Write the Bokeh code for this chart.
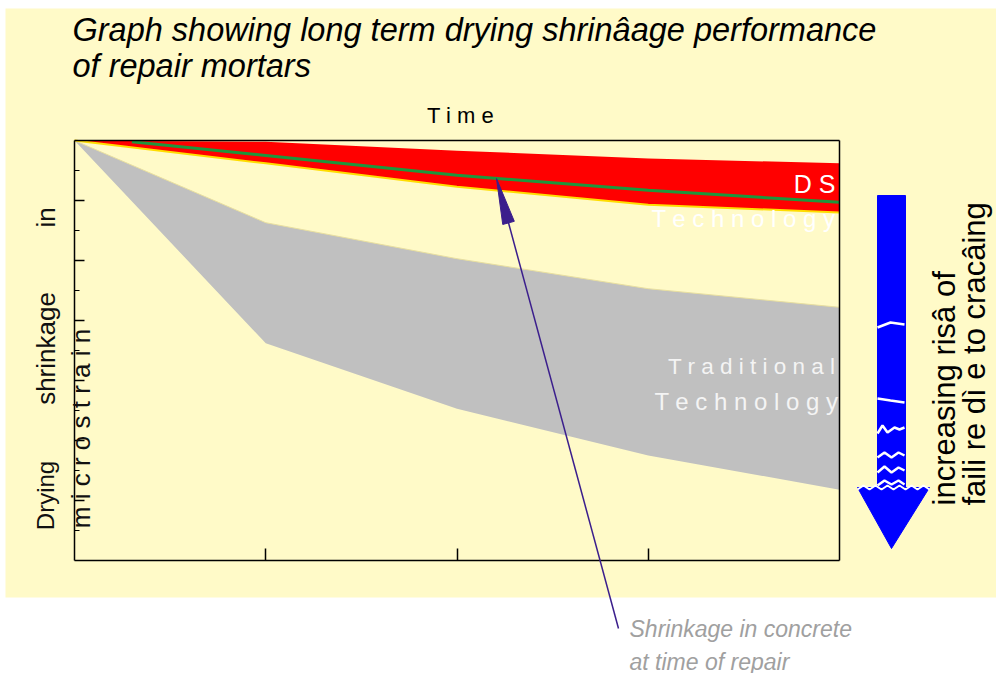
import math
from bokeh.plotting import figure
from bokeh.models import (Range1d, FixedTicker, Label, PolyAnnotation, Arrow,
                          BoxAnnotation, LinearAxis)
from bokeh.embed import file_html
from bokeh.resources import INLINE

# ---------------- data ----------------
time = [0, 1, 2, 3, 4]
trad_shrink_low = [0, 137, 197, 247, 278]
trad_shrink_high = [0, 338, 447, 525, 582]
ds_shrink_low = [0, 2, 17, 30, 38]
ds_shrink_high = [0, 38, 77, 107, 120]
concrete_time = [0.3, 1, 2, 3, 4]
concrete_shrink = [2, 25, 58, 83, 103]
x_ticks = [1, 2, 3]
y_major_ticks = [100, 200, 300, 400, 500, 600]
y_minor_ticks = [50, 150, 250, 350, 450, 550, 650]
X_MIN, X_MAX = 0, 4
Y_MIN, Y_MAX = 0, 700

title_lines = ["Graph showing long term drying shrinâage performance", "of repair mortars"]
x_title = "T i m e"
y_title_words = ["Drying", "shrinkage", "in"]
y_title_2 = "m i c r o s t r a i n"
ds_label = ["D S", "T e c h n o l o g y"]
trad_label = ["T r a d i t i o n a l", "T e c h n o l o g y"]
risk_label = ["increasing risâ of", "faili re dì e to cracâing"]
note_label = ["Shrinkage in concrete", "at time of repair"]

# ---------------- layout / styling ----------------
W, H = 996, 673
PL, PR, PT, PB = 74, 839, 140, 560          # plot-area box in canvas pixels
BG = "#FFFAC8"
GREY = "#C0C0C0"
RED = "#FF0000"
GREEN = "#1E963C"
BLUE = "#0000FF"
PURPLE = "#3B1E8C"
FONT = "Liberation Sans"
U = "canvas"

# ranges so that the data box maps onto the plot-area box while the frame fills the canvas
sx = (X_MAX - X_MIN) / (PR - PL)
sy = (Y_MAX - Y_MIN) / (PB - PT)
x_range = Range1d(X_MIN - PL * sx, X_MAX + (W - PR) * sx)
y_range = Range1d(Y_MAX + (H - PB) * sy, Y_MIN - PT * sy)

p = figure(width=W, height=H, x_range=x_range, y_range=y_range,
           output_backend="svg", toolbar_location=None,
           x_axis_location=None, y_axis_location=None,
           min_border_left=0, min_border_right=0, min_border_top=0, min_border_bottom=0,
           background_fill_color="white", border_fill_color="white")
p.grid.visible = False
p.outline_line_color = None

# yellow panel
p.add_layout(BoxAnnotation(left=5, right=W, top=8, bottom=597, left_units=U, right_units=U,
                           top_units=U, bottom_units=U, fill_color=BG, fill_alpha=1.0,
                           line_color=None, level="underlay"))


def make_axis(loc, bounds, ticks, minor, tin, minor_in):
    ax = LinearAxis(fixed_location=loc, bounds=bounds,
                    ticker=FixedTicker(ticks=ticks, minor_ticks=minor))
    ax.axis_line_color = "black"
    ax.axis_line_width = 1.5
    ax.major_tick_line_color = "black"
    ax.major_tick_line_width = 1.5
    ax.minor_tick_line_color = "black"
    ax.minor_tick_line_width = 1.2
    ax.major_tick_out = 0
    ax.minor_tick_out = 0
    ax.major_tick_in = tin
    ax.minor_tick_in = minor_in
    ax.major_label_text_color = None
    ax.major_label_text_font_size = "1px"
    ax.major_label_standoff = 0
    return ax


p.add_layout(make_axis(Y_MAX, (X_MIN, X_MAX), x_ticks, [], 12, 0), "below")
p.add_layout(make_axis(X_MIN, (Y_MIN, Y_MAX), y_major_ticks, y_minor_ticks, 10, 5), "left")
p.add_layout(make_axis(Y_MIN, (X_MIN, X_MAX), [], [], 0, 0), "above")
p.add_layout(make_axis(X_MAX, (Y_MIN, Y_MAX), [], [], 0, 0), "right")

# bands
p.varea(x=time, y1=trad_shrink_low, y2=trad_shrink_high, fill_color=GREY)
p.line(time, trad_shrink_low, line_color="#E8DFA0", line_width=1)
p.varea(x=time, y1=ds_shrink_low, y2=ds_shrink_high, fill_color=RED)
p.line(time, ds_shrink_high, line_color="#FFDD00", line_width=2)
p.line(concrete_time, concrete_shrink, line_color=GREEN, line_width=3)


def poly(xs, ys, fill=None, line=None, lw=1.0):
    p.add_layout(PolyAnnotation(xs=xs, ys=ys, xs_units=U, ys_units=U,
                                fill_color=fill if fill else "white",
                                fill_alpha=1.0 if fill else 0.0,
                                line_color=line, line_alpha=1.0, line_width=lw))


def zig(xs, ys, color="white", lw=2.5):
    poly(xs + xs[-2:0:-1], ys + ys[-2:0:-1], fill=None, line=color, lw=lw)


def lab(x, y, text, size, color="black", align="left", baseline="middle",
        angle=0.0, style="normal"):
    p.add_layout(Label(x=x, y=y, x_units=U, y_units=U, text=text,
                       text_font=FONT, text_font_size=f"{size}px", text_color=color,
                       text_align=align, text_baseline=baseline, angle=angle,
                       text_font_style=style))


# titles
lab(72, 29, title_lines[0], 32.5, style="italic")
lab(72, 65, title_lines[1], 32.5, style="italic")
lab(460, 115, x_title, 22, align="center")

# y title
for word, yc, fs in zip(y_title_words, [495, 348, 217], [24, 26, 26]):
    lab(45, yc, word, fs, color="#111111", align="center", angle=math.pi / 2)
lab(80, 428, y_title_2, 26, color="#111111", align="center", angle=math.pi / 2)

# band labels
lab(835, 183, ds_label[0], 25, color="white", align="right")
lab(835, 218, ds_label[1], 24, color="white", align="right")
lab(835, 366, trad_label[0], 22.5, color="#F4F4F4", align="right")
lab(838, 401, trad_label[1], 24, color="#F4F4F4", align="right")

# blue risk arrow
poly([877, 905, 905, 929, 891, 857, 877], [195, 195, 487, 487, 548, 487, 487], fill=BLUE, line=BLUE)
zig([877, 890, 904], [327, 322, 324])
zig([877, 890, 904], [398, 400, 402])
zig([877, 882, 887, 894, 899, 904], [433, 425, 432, 427, 429, 427])
zig([877, 884, 891, 898, 904], [457, 452, 457, 452, 455])
zig([877, 884, 891, 898, 904], [472, 466, 472, 467, 470])
zig([877, 884, 891, 898, 904], [485, 480, 484, 480, 484])
zig([857, 863, 869, 875, 881, 887, 893, 899, 905, 911, 917, 923, 929],
    [489, 485, 489, 485, 489, 485, 489, 485, 489, 485, 489, 485, 489], lw=2)

lab(944, 505, risk_label[0], 31, align="left", angle=math.pi / 2)
lab(974, 505, risk_label[1], 31, align="left", angle=math.pi / 2)

# pointer to the concrete shrinkage line
tip = (496, 178)
tail = (618, 628)
dx, dy = tail[0] - tip[0], tail[1] - tip[1]
L = math.hypot(dx, dy)
ux, uy = dx / L, dy / L
nx, ny = uy, -ux
hl, hw = 46, 6
bx, by = tip[0] + hl * ux, tip[1] + hl * uy
p.add_layout(Arrow(x_start=tip[0] + 10 * ux, y_start=tip[1] + 10 * uy, x_end=tail[0], y_end=tail[1],
                   start_units=U, end_units=U, start=None, end=None,
                   line_color=PURPLE, line_width=1.5))
poly([tip[0], bx + hw * nx, bx - hw * nx], [tip[1], by + hw * ny, by - hw * ny], fill=PURPLE, line=PURPLE)

lab(629, 628, note_label[0], 23, color="#A0A0A0", style="italic")
lab(629, 661, note_label[1], 23, color="#A0A0A0", style="italic")

open("out.html", "w").write(file_html(p, INLINE))
